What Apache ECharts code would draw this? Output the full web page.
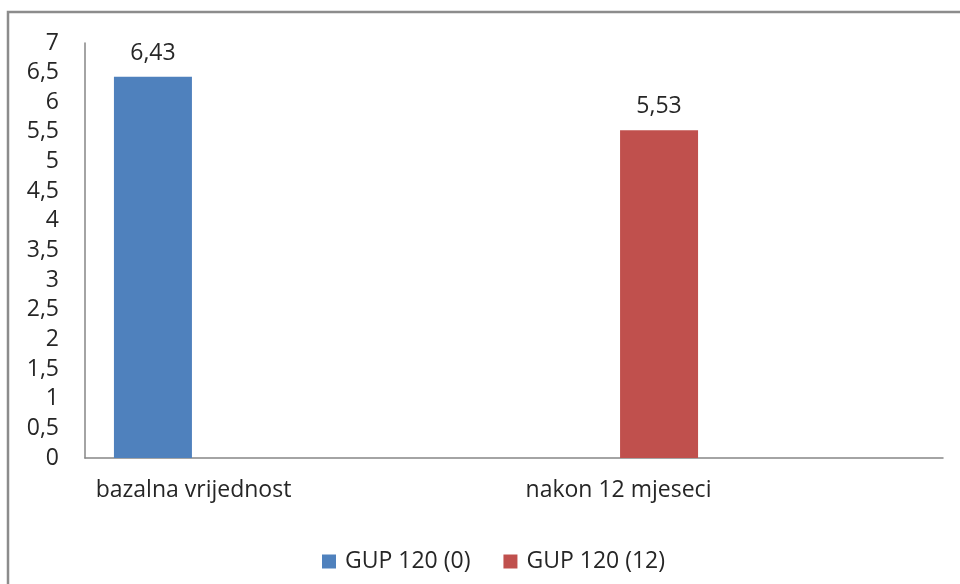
<!DOCTYPE html>
<html>
<head>
<meta charset="utf-8">
<script src="https://cdn.jsdelivr.net/npm/echarts@6/dist/echarts.min.js"></script>
<style>
  html, body { margin: 0; padding: 0; background: #fff; }
  #chart { width: 960px; height: 584px; }
</style>
</head>
<body>
<div id="chart"></div>
<script>
const categories = ['bazalna vrijednost', 'nakon 12 mjeseci'];
const seriesNames = ['GUP 120 (0)', 'GUP 120 (12)'];
const gup0 = [6.43, '-'];
const gup12 = ['-', 5.53];
const yMin = 0, yMax = 7, yStep = 0.5;

const fmt = v => String(v).replace('.', ',');
const font = '"Open Sans", "Liberation Sans", sans-serif';
const FS = 23;

const chart = echarts.init(document.getElementById('chart'), null, { renderer: 'canvas' });
chart.setOption({
  backgroundColor: '#ffffff',
  animation: false,
  textStyle: { fontFamily: font },
  graphic: [{
    type: 'rect',
    shape: { x: 8, y: 12, width: 1200, height: 1200 },
    style: { fill: 'none', stroke: '#8c8c8c', lineWidth: 2.5 },
    silent: true
  }],
  grid: [
    { left: 85, right: 17, top: 43, bottom: 126 },
    { left: 193.5, width: 425, top: 43, bottom: 126 }
  ],
  legend: {
    data: seriesNames,
    left: 317,
    top: 545,
    icon: 'rect',
    itemWidth: 14,
    itemHeight: 14,
    itemGap: 33,
    textStyle: { fontFamily: font, fontSize: FS, color: '#262626', padding: [0, 0, 0, 4] }
  },
  xAxis: [
    {
      type: 'category', gridIndex: 0, data: categories,
      axisLine: { show: true, lineStyle: { color: '#868686', width: 1.5 } },
      axisTick: { show: false }, axisLabel: { show: false }, splitLine: { show: false }
    },
    {
      type: 'category', gridIndex: 1, data: categories, boundaryGap: false,
      axisLine: { show: false }, axisTick: { show: false },
      axisLabel: { show: true, margin: 21, fontFamily: font, fontSize: FS, color: '#262626' },
      splitLine: { show: false }
    }
  ],
  yAxis: [
    {
      type: 'value', gridIndex: 0, min: yMin, max: yMax, interval: yStep,
      axisLine: { show: true, lineStyle: { color: '#868686', width: 1.5 } },
      axisTick: { show: false },
      splitLine: { show: false },
      axisLabel: { margin: 26, fontFamily: font, fontSize: FS, color: '#262626', formatter: fmt }
    },
    {
      type: 'value', gridIndex: 1, min: yMin, max: yMax, interval: yStep, show: false,
      splitLine: { show: false }
    }
  ],
  series: [
    {
      name: seriesNames[0], type: 'bar', xAxisIndex: 1, yAxisIndex: 1, clip: false,
      data: gup0, barWidth: 78, barGap: '4%',
      itemStyle: { color: '#4F81BD' },
      label: { show: true, position: 'top', distance: 12, fontFamily: font, fontSize: FS, color: '#262626', formatter: p => fmt(p.value) }
    },
    {
      name: seriesNames[1], type: 'bar', xAxisIndex: 1, yAxisIndex: 1, clip: false,
      data: gup12, barWidth: 78, barGap: '4%',
      itemStyle: { color: '#C0504D' },
      label: { show: true, position: 'top', distance: 12, fontFamily: font, fontSize: FS, color: '#262626', formatter: p => fmt(p.value) }
    }
  ]
});
</script>
</body>
</html>
